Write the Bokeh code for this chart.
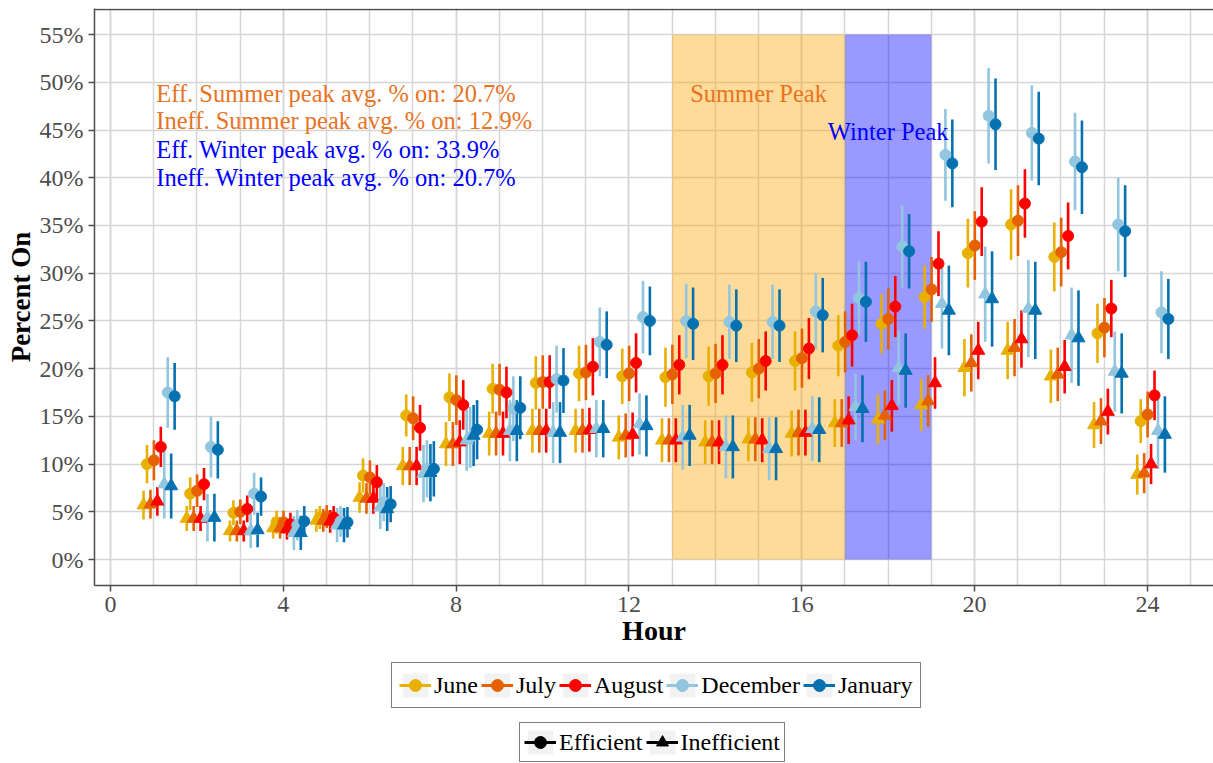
from bokeh.plotting import figure
from bokeh.layouts import column
from bokeh.models import (FixedTicker, PrintfTickFormatter, Legend, LegendItem,
                          ColumnDataSource, Range1d, Span)
from bokeh.core.properties import value
from bokeh.embed import file_html
from bokeh.resources import INLINE

# ---------------- data ----------------
hours = list(range(1, 25))
months = ["June", "July", "August", "December", "January"]
month_colors = ["#E8B000", "#E66101", "#FF0000", "#92C5DE", "#0571B0"]
efficiency = ["Inefficient", "Efficient"]

june_eff = [10.0, 6.9, 4.9, 3.9, 4.4, 8.8, 15.1, 17.0, 17.9, 18.5, 19.5, 19.2,
            19.1, 19.2, 19.6, 20.8, 22.4, 24.7, 27.5, 32.1, 35.1, 31.7, 23.7, 14.5]
july_eff = [10.4, 7.2, 5.0, 3.9, 4.5, 8.6, 14.8, 16.7, 17.8, 18.6, 19.6, 19.5,
            19.4, 19.5, 20.0, 21.1, 22.8, 25.2, 28.3, 32.9, 35.5, 32.2, 24.3, 15.2]
aug_eff = [11.8, 7.9, 5.3, 3.7, 4.4, 8.1, 13.8, 16.2, 17.5, 18.6, 20.2, 20.6,
           20.4, 20.4, 20.8, 22.1, 23.5, 26.5, 31.0, 35.4, 37.3, 33.9, 26.3, 17.2]
dec_eff = [17.5, 11.8, 6.9, 3.6, 4.0, 6.0, 9.5, 12.8, 15.8, 18.9, 22.8, 25.4,
           25.0, 24.9, 24.9, 26.0, 27.4, 32.8, 42.4, 46.5, 44.7, 41.7, 35.1, 25.9]
jan_eff = [17.1, 11.5, 6.6, 4.0, 3.9, 5.8, 9.5, 13.6, 15.9, 18.75, 22.5, 25.0,
           24.7, 24.5, 24.5, 25.6, 27.0, 32.3, 41.5, 45.6, 44.1, 41.1, 34.4, 25.2]

june_ineff = [5.7, 4.3, 3.0, 3.3, 4.1, 6.5, 9.8, 12.1, 13.2, 13.5, 13.5, 12.8,
              12.5, 12.3, 12.6, 13.2, 14.3, 14.7, 16.2, 20.1, 21.9, 19.2, 14.1, 8.9]
july_ineff = [5.8, 4.3, 3.0, 3.3, 4.1, 6.4, 9.8, 12.1, 13.2, 13.5, 13.5, 13.0,
              12.5, 12.3, 12.6, 13.3, 14.3, 15.1, 16.6, 20.6, 22.2, 19.4, 14.5, 9.05]
aug_ineff = [6.1, 4.3, 3.0, 3.2, 4.0, 6.4, 9.8, 12.3, 13.2, 13.5, 13.6, 13.1,
             12.5, 12.3, 12.5, 13.3, 14.6, 16.1, 18.5, 21.9, 23.1, 20.2, 15.5, 10.0]
dec_ineff = [7.9, 4.4, 3.0, 2.8, 3.6, 5.5, 9.0, 12.5, 13.5, 13.3, 13.7, 14.2,
             12.8, 11.8, 11.6, 13.7, 16.0, 20.1, 26.8, 27.8, 26.3, 23.5, 19.7, 13.5]
jan_ineff = [7.7, 4.4, 3.1, 2.8, 3.6, 5.3, 9.1, 13.0, 13.5, 13.3, 13.7, 14.0,
             13.0, 11.8, 11.6, 13.6, 15.8, 19.8, 26.1, 27.3, 26.1, 23.2, 19.5, 13.1]

# error-bar half widths (percentage points)
june_eff_err = [2.0, 1.7, 1.3, 1.2, 1.2, 1.8, 2.2, 2.5, 2.6, 2.8, 2.9, 2.9,
                3.1, 3.1, 3.1, 3.1, 3.2, 3.1, 3.3, 3.6, 3.7, 3.6, 3.1, 2.3]
july_eff_err = [2.1, 1.7, 1.3, 1.2, 1.2, 1.8, 2.3, 2.6, 2.7, 2.8, 2.9, 2.9,
                3.1, 3.1, 3.1, 3.1, 3.2, 3.2, 3.4, 3.6, 3.7, 3.6, 3.1, 2.4]
aug_eff_err = [2.1, 1.7, 1.4, 1.2, 1.2, 1.8, 2.4, 2.6, 2.7, 2.8, 3.0, 3.1,
               3.1, 3.1, 3.1, 3.2, 3.3, 3.2, 3.4, 3.6, 3.6, 3.5, 3.0, 2.6]
dec_eff_err = [3.7, 3.2, 2.2, 1.6, 1.6, 2.0, 3.0, 3.2, 3.4, 3.5, 3.6, 3.8,
               3.9, 3.9, 3.9, 4.0, 3.9, 4.3, 4.8, 5.0, 5.0, 5.1, 4.9, 4.3]
jan_eff_err = [3.5, 3.0, 2.0, 1.6, 1.6, 1.9, 2.9, 3.1, 3.3, 3.4, 3.5, 3.6,
               3.8, 3.8, 3.8, 3.9, 4.2, 3.9, 4.6, 4.8, 4.9, 4.9, 4.8, 4.2]
june_ineff_err = [1.5, 1.3, 1.1, 1.1, 1.2, 1.6, 2.0, 2.3, 2.3, 2.3, 2.3, 2.3,
                  2.3, 2.3, 2.3, 2.4, 2.5, 2.6, 2.7, 3.0, 3.0, 2.8, 2.4, 2.1]
july_ineff_err = [1.5, 1.3, 1.1, 1.1, 1.2, 1.6, 2.0, 2.3, 2.3, 2.3, 2.3, 2.3,
                  2.3, 2.3, 2.3, 2.4, 2.5, 2.6, 2.7, 3.0, 3.0, 2.8, 2.4, 2.1]
aug_ineff_err = [1.5, 1.3, 1.1, 1.1, 1.2, 1.6, 2.0, 2.3, 2.3, 2.3, 2.3, 2.3,
                 2.3, 2.3, 2.3, 2.4, 2.5, 2.7, 2.7, 3.0, 3.0, 2.8, 2.4, 2.1]
dec_ineff_err = [3.6, 2.5, 1.8, 1.8, 1.8, 2.3, 3.0, 3.2, 3.2, 3.2, 3.0, 3.2,
                 3.4, 3.3, 3.3, 3.4, 3.5, 3.9, 4.7, 5.0, 5.1, 5.0, 4.2, 4.0]
jan_ineff_err = [3.4, 2.5, 1.8, 1.8, 1.8, 2.3, 3.0, 3.2, 3.2, 3.2, 3.0, 3.2,
                 3.2, 3.3, 3.3, 3.4, 3.5, 3.9, 4.7, 5.0, 5.1, 5.0, 4.2, 4.0]

summer_peak = (13, 17)
winter_peak = (17, 19)
peak_top = 55
annotations = ["Eff. Summer peak avg. % on: 20.7%",
               "Ineff. Summer peak avg. % on: 12.9%",
               "Eff. Winter peak avg. % on: 33.9%",
               "Ineff. Winter peak avg. % on: 20.7%"]

x_ticks = [0, 4, 8, 12, 16, 20, 24]
y_ticks = list(range(0, 56, 5))

series = {
    ("June", "Efficient"): (june_eff, june_eff_err),
    ("July", "Efficient"): (july_eff, july_eff_err),
    ("August", "Efficient"): (aug_eff, aug_eff_err),
    ("December", "Efficient"): (dec_eff, dec_eff_err),
    ("January", "Efficient"): (jan_eff, jan_eff_err),
    ("June", "Inefficient"): (june_ineff, june_ineff_err),
    ("July", "Inefficient"): (july_ineff, july_ineff_err),
    ("August", "Inefficient"): (aug_ineff, aug_ineff_err),
    ("December", "Inefficient"): (dec_ineff, dec_ineff_err),
    ("January", "Inefficient"): (jan_ineff, jan_ineff_err),
}

# ---------------- main figure ----------------
FONT = "Liberation Serif"
GRID = "#D6D6D6"
AXIS = "#4D4D4D"

p = figure(frame_width=1119, frame_height=577,
           x_range=Range1d(-0.37, 25.53), y_range=Range1d(-2.72, 57.73),
           output_backend="svg", toolbar_location=None,
           min_border_left=94, min_border_right=0, min_border_top=8,
           min_border_bottom=70, background_fill_color="white",
           border_fill_color="white")
p.outline_line_color = None

p.xaxis.ticker = FixedTicker(ticks=x_ticks, minor_ticks=list(range(0, 26)))
p.yaxis.ticker = FixedTicker(ticks=y_ticks)
p.yaxis.formatter = PrintfTickFormatter(format="%d%%")
for ax in (p.xaxis, p.yaxis):
    ax.axis_line_color = AXIS
    ax.axis_line_width = 1.5
    ax.major_tick_line_color = AXIS
    ax.major_tick_line_width = 1.5
    ax.major_tick_out = 6
    ax.major_tick_in = 0
    ax.minor_tick_line_color = None
    ax.major_label_text_font = FONT
    ax.major_label_text_font_size = "24px"
    ax.major_label_text_color = AXIS
    ax.major_label_standoff = 5
    ax.axis_label_text_font = FONT
    ax.axis_label_text_font_style = "bold"
    ax.axis_label_text_color = "black"
p.xaxis.axis_label = "Hour"
p.xaxis.axis_label_text_font_size = "28px"
p.xaxis.axis_label_standoff = 0
p.yaxis.axis_label = "Percent On"
p.yaxis.axis_label_text_font_size = "27px"
p.yaxis.axis_label_standoff = 1

p.xgrid.grid_line_color = GRID
p.xgrid.grid_line_width = 1.5
p.xgrid.minor_grid_line_color = GRID
p.xgrid.minor_grid_line_width = 1.5
p.ygrid.grid_line_color = GRID
p.ygrid.grid_line_width = 1.5

# top panel border
p.add_layout(Span(location=57.62, dimension="width", line_color=AXIS, line_width=1.5))

# peak windows
p.quad(left=[summer_peak[0]], right=[summer_peak[1]], bottom=[0], top=[peak_top],
       fill_color="orange", fill_alpha=0.4, line_color=None)
p.quad(left=[winter_peak[0]], right=[winter_peak[1]], bottom=[0], top=[peak_top],
       fill_color="blue", fill_alpha=0.4, line_color=None)

# dodge offsets: groups ordered month x (Inefficient, Efficient)
center_shift = 0.125
step = 0.08

sources = {}
for (m, e), (vals, errs) in series.items():
    k = 2 * months.index(m) + efficiency.index(e)
    off = center_shift + (k - 4.5) * step
    sources[(m, e)] = ColumnDataSource(dict(
        x=[h + off for h in hours], y=vals,
        lo=[v - d for v, d in zip(vals, errs)],
        hi=[v + d for v, d in zip(vals, errs)]))

order = [(m, e) for m in months for e in efficiency]
for key in order:
    col = month_colors[months.index(key[0])]
    p.segment(x0="x", y0="lo", x1="x", y1="hi", source=sources[key],
              line_color=col, line_width=2.6)
for key in order:
    col = month_colors[months.index(key[0])]
    if key[1] == "Efficient":
        p.scatter(x="x", y="y", source=sources[key], marker="circle", size=11,
                  fill_color=col, line_color=col)
    else:
        p.scatter(x="x", y="y", source=sources[key], marker="triangle", size=13,
                  fill_color=col, line_color=col)

p.text(x=[1.06] * 4, y=[48.8, 46.0, 43.0, 40.0], text=annotations,
       text_color=["#E8731F", "#E8731F", "#0000FF", "#0000FF"],
       text_font=value(FONT), text_font_size="24.5px",
       text_baseline="middle", text_align="left")
p.text(x=[15.0], y=[48.8], text=["Summer Peak"], text_color="#E8731F",
       text_font=value(FONT), text_font_size="24.5px",
       text_baseline="middle", text_align="center")
p.text(x=[18.0], y=[44.8], text=["Winter Peak"], text_color="#0000FF",
       text_font=value(FONT), text_font_size="24.5px",
       text_baseline="middle", text_align="center")

# ---------------- legend strip (second figure) ----------------
q = figure(width=1213, height=108, x_range=Range1d(0, 1), y_range=Range1d(0, 1),
           x_axis_type=None, y_axis_type=None, output_backend="svg",
           toolbar_location=None, min_border=0, background_fill_color="white",
           border_fill_color="white")
q.outline_line_color = None
q.xgrid.visible = False
q.ygrid.visible = False

def key_bg():
    return q.rect(x=[-50], y=[-50], width=1, height=1,
                  fill_color="#F2F2F2", line_color=None)

month_items = []
for m, col in zip(months, month_colors):
    bg = key_bg()
    ln = q.line(x=[-50, -49], y=[-50, -50], line_color=col, line_width=3)
    pt = q.scatter(x=[-50], y=[-50], marker="circle", size=11,
                   fill_color=col, line_color=col)
    month_items.append(LegendItem(label=m, renderers=[bg, ln, pt]))

eff_items = []
for e, mk in (("Efficient", "circle"), ("Inefficient", "triangle")):
    bg = key_bg()
    ln = q.line(x=[-50, -49], y=[-50, -50], line_color="black", line_width=3)
    pt = q.scatter(x=[-50], y=[-50], marker=mk, size=11,
                   fill_color="black", line_color="black")
    eff_items.append(LegendItem(label=e, renderers=[bg, ln, pt]))

def make_legend(items, loc, pad):
    return Legend(items=items, orientation="horizontal", location=loc,
                  label_text_font=FONT, label_text_font_size="24px",
                  label_text_color="black", border_line_color="black",
                  border_line_width=1.5, background_fill_color="white",
                  glyph_width=32, glyph_height=30, label_standoff=3,
                  spacing=3, padding=pad, margin=0, label_height=30)

# location = (left, bottom) in screen px from the strip frame's bottom-left
# (the column aligns this frame with the main plot frame, which starts at x=94)
q.add_layout(make_legend(month_items, (297, 55), 7), "center")
q.add_layout(make_legend(eff_items, (425, 1), 4), "center")

open("out.html", "w").write(file_html(column(p, q, spacing=0), INLINE))
